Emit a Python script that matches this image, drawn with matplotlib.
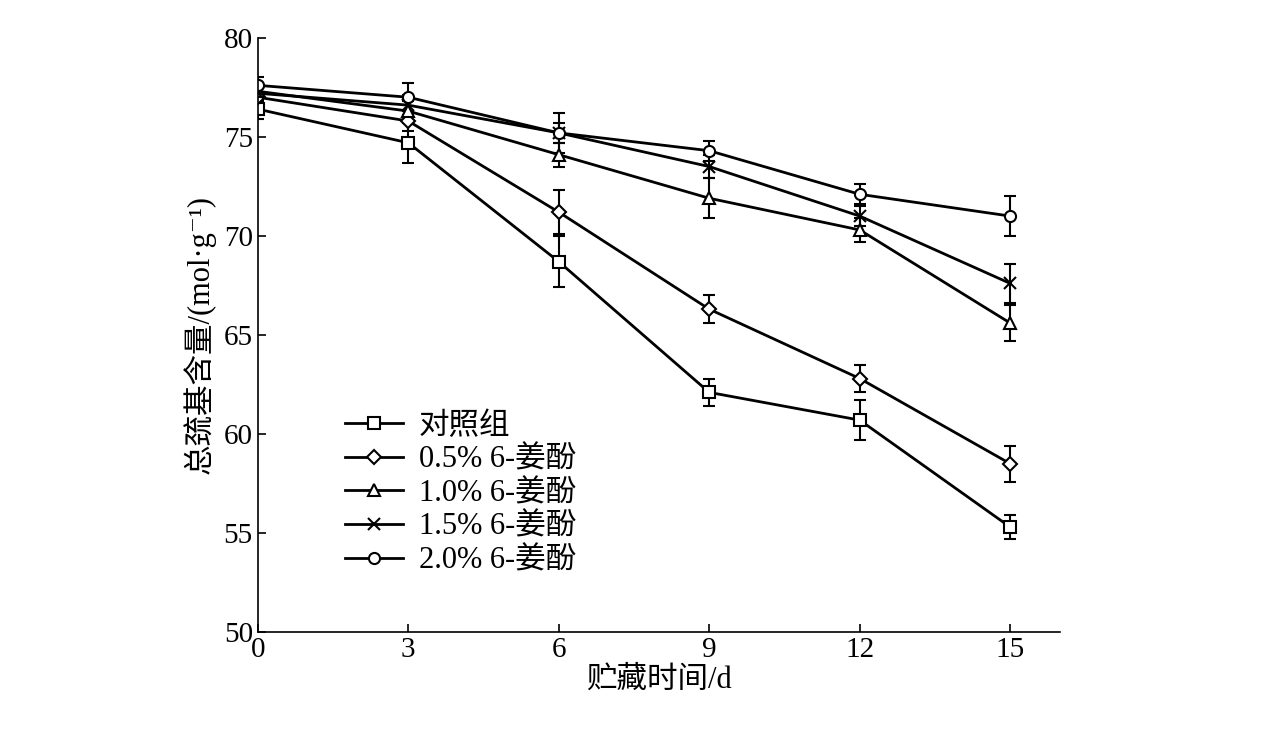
import matplotlib
matplotlib.use("Agg")
import matplotlib.pyplot as plt
from matplotlib.lines import Line2D

plt.rcParams['font.family'] = ['Liberation Serif', 'Noto Sans CJK SC', 'DejaVu Serif']

days = [0, 3, 6, 9, 12, 15]
labels = ['对照组', '0.5% 6-姜酚', '1.0% 6-姜酚', '1.5% 6-姜酚', '2.0% 6-姜酚']
markers = ['s', 'D', '^', 'x', 'o']
values = [
    [76.4, 74.7, 68.7, 62.1, 60.7, 55.3],
    [77.0, 75.8, 71.2, 66.3, 62.8, 58.5],
    [77.3, 76.3, 74.1, 71.9, 70.3, 65.6],
    [77.2, 76.6, 75.2, 73.5, 71.0, 67.6],
    [77.6, 77.0, 75.2, 74.3, 72.1, 71.0],
]
errors = [
    [0.5, 1.0, 1.3, 0.7, 1.0, 0.6],
    [0.5, 0.5, 1.1, 0.7, 0.7, 0.9],
    [0.4, 0.5, 0.6, 1.0, 0.6, 0.9],
    [0.4, 0.5, 0.5, 0.6, 0.5, 1.0],
    [0.4, 0.7, 1.0, 0.5, 0.5, 1.0],
]

fig = plt.figure(figsize=(12.76, 7.41), dpi=100)
ax = fig.add_axes([0.202, 0.147, 0.629, 0.802])
handles = []
for lab, m, v, e in zip(labels, markers, values, errors):
    kw = dict(color='black', lw=2, marker=m, ms=8 if m != 'D' else 7,
              mfc='white' if m != 'x' else 'black', mec='black', mew=1.5)
    ax.errorbar(days, v, yerr=e, capsize=4, elinewidth=1.5, capthick=1.5, **kw)
    handles.append(Line2D([], [], label=lab, **kw))
ax.set_xlim(0, 16)
ax.set_ylim(50, 80)
ax.set_xticks(days)
ax.set_yticks(range(50, 81, 5))
ax.tick_params(direction='in', labelsize=21, length=6, width=1.2, top=False, right=False)
for s in ['top', 'right']:
    ax.spines[s].set_visible(False)
for s in ['left', 'bottom']:
    ax.spines[s].set_linewidth(1.2)
ax.set_xlabel('贮藏时间/d', fontsize=22, labelpad=2)
ax.set_ylabel('总巯基含量/(mol·g⁻¹)', fontsize=22, labelpad=6)
ax.legend(handles=handles, loc='lower left', bbox_to_anchor=(0.09, 0.07), frameon=False, fontsize=22,
          handlelength=1.9, labelspacing=0.15, handletextpad=0.5, borderpad=0)
fig.savefig('out.png', dpi=100)
